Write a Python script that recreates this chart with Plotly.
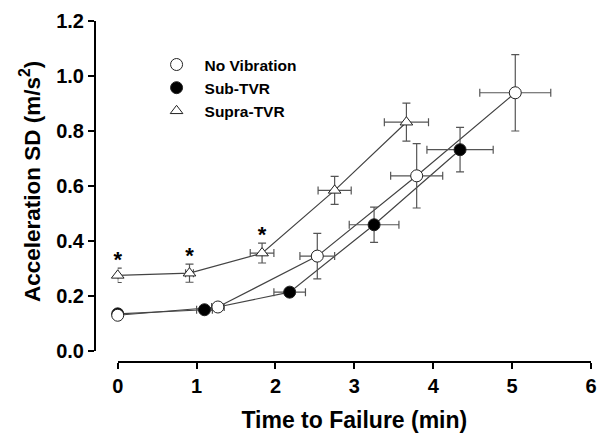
import plotly.graph_objects as go

# Data
nv_x = [0.0, 1.27, 2.53, 3.79, 5.04]
nv_y = [0.13, 0.160, 0.345, 0.637, 0.939]
nv_xerr = [0.0, 0.08, 0.22, 0.33, 0.45]
nv_yerr = [0.0, 0.0, 0.083, 0.117, 0.139]

sub_x = [0.0, 1.10, 2.18, 3.25, 4.34]
sub_y = [0.135, 0.150, 0.214, 0.459, 0.732]
sub_xerr = [0.0, 0.10, 0.20, 0.315, 0.42]
sub_yerr = [0.0, 0.0, 0.015, 0.064, 0.081]

sup_x = [0.0, 0.91, 1.83, 2.75, 3.66]
sup_y = [0.275, 0.283, 0.356, 0.584, 0.832]
sup_xerr = [0.0, 0.05, 0.15, 0.21, 0.28]
sup_yerr = [0.026, 0.033, 0.036, 0.051, 0.069]

sig_idx = [0, 1, 2]  # significant points (asterisks) on Supra-TVR

x_ticks = [0, 1, 2, 3, 4, 5, 6]
y_ticks = [0.0, 0.2, 0.4, 0.6, 0.8, 1.0, 1.2]

FONT = "Liberation Sans"
LINE_C = "#444444"
ERR_C = "#555555"

fig = go.Figure()

series = [
    ("No Vibration", nv_x, nv_y, nv_xerr, nv_yerr, "circle", "white"),
    ("Sub-TVR", sub_x, sub_y, sub_xerr, sub_yerr, "circle", "black"),
    ("Supra-TVR", sup_x, sup_y, sup_xerr, sup_yerr, "triangle-up", "white"),
]

for name, x, y, xe, ye, sym, fill in series:
    fig.add_trace(go.Scatter(
        x=x, y=y, mode="lines", showlegend=False, hoverinfo="skip",
        line=dict(color=LINE_C, width=1.2),
    ))

for rank, (name, x, y, xe, ye, sym, fill) in reversed(list(enumerate(series))):
    fig.add_trace(go.Scatter(
        x=x, y=y, mode="markers", name=name, cliponaxis=False, legendrank=rank + 1,
        marker=dict(symbol=sym, size=12 if sym == "circle" else 11, color=fill,
                    line=dict(color="#222222", width=1)),
        error_x=dict(type="data", array=xe, visible=True, color=ERR_C, thickness=1.2, width=4),
        error_y=dict(type="data", array=ye, visible=True, color=ERR_C, thickness=1.2, width=4),
    ))

# asterisks above significant Supra-TVR points
fig.add_trace(go.Scatter(
    x=[sup_x[i] for i in sig_idx],
    y=[sup_y[i] + sup_yerr[i] - 0.016 for i in sig_idx],
    mode="text", text=["*"] * len(sig_idx), textposition="top center",
    textfont=dict(family=FONT, size=22, color="black", weight="bold"),
    showlegend=False, hoverinfo="skip", cliponaxis=False,
))

fig.add_annotation(
    text="Acceleration SD (m/s<sup>2</sup>)", textangle=-90,
    xref="paper", yref="paper", x=-0.131, y=0.528,
    xanchor="center", yanchor="middle", showarrow=False,
    font=dict(family=FONT, size=22.5, color="black", weight="bold"),
)

fig.update_layout(
    width=598, height=434,
    margin=dict(l=95, r=7, t=21, b=72, autoexpand=False),
    paper_bgcolor="white", plot_bgcolor="white",
    font=dict(family=FONT, color="black"),
    showlegend=True,
    legend=dict(
        x=0.108, y=0.921, xanchor="left", yanchor="top",
        bgcolor="rgba(0,0,0,0)", borderwidth=0,
        font=dict(family=FONT, size=15.5, color="black", weight="bold"),
        tracegroupgap=0, itemwidth=46,
    ),
    xaxis=dict(
        domain=[0.0458, 1.0], anchor="free", position=0, automargin=False,
        range=[0, 6], tickvals=x_ticks, ticktext=[str(v) for v in x_ticks],
        showgrid=False, zeroline=False, showline=True, linecolor="black", linewidth=2,
        ticks="outside", ticklen=6, tickwidth=2, tickcolor="black",
        tickfont=dict(family=FONT, size=20, color="black", weight="bold"),
        title=dict(text="Time to Failure (min)", standoff=15,
                   font=dict(family=FONT, size=23, color="black", weight="bold")),
    ),
    yaxis=dict(
        domain=[0.0323, 1.0], anchor="free", position=0, automargin=False,
        range=[0, 1.2], tickvals=y_ticks, ticktext=["%.1f" % v for v in y_ticks],
        showgrid=False, zeroline=False, showline=True, linecolor="black", linewidth=2,
        ticks="outside", ticklen=6, tickwidth=2, tickcolor="black",
        tickfont=dict(family=FONT, size=20, color="black", weight="bold"),
    ),
)

fig.write_html("out.html", config={"displayModeBar": False},
               post_script="document.body.style.margin='0px';")
